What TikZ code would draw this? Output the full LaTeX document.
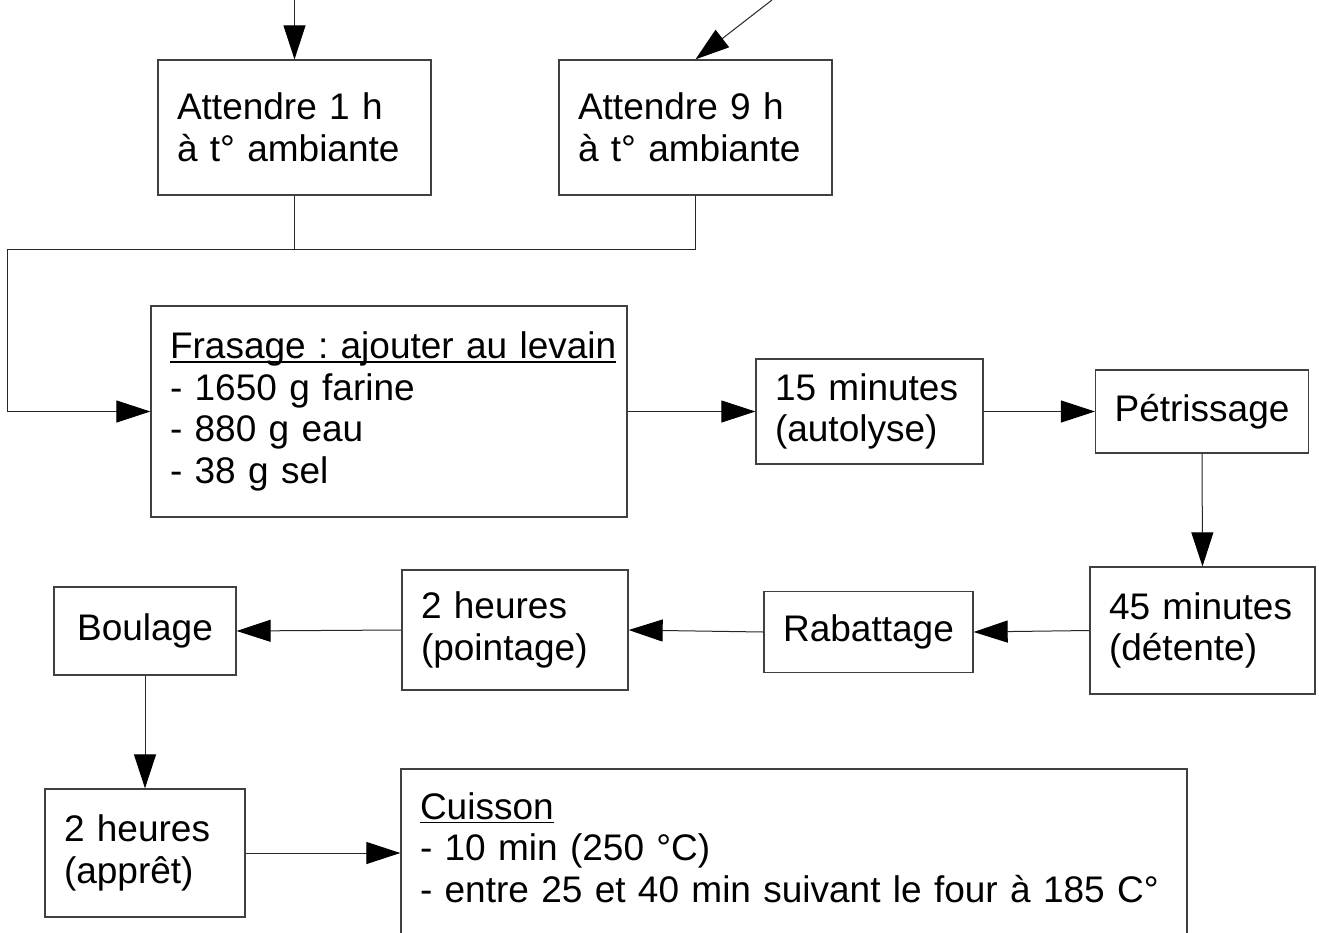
\documentclass[tikz,border=0pt]{standalone}
\usepackage{fontspec}
\setmainfont{Liberation Sans}
\usetikzlibrary{arrows.meta,calc}
\newcommand\myul[1]{\setbox0\hbox{#1}\rlap{\rule[-4pt]{\wd0}{1.8pt}}\box0}
\frenchspacing
\begin{document}
\begin{tikzpicture}[x=1pt,y=-1pt,
  box/.style={draw=black!75, line width=1.3pt, inner xsep=19pt, inner ysep=0pt,
    font=\fontsize{37}{41.5}\selectfont, align=left},
  cbox/.style={box, align=center},
  conn/.style={draw=black!85, line width=1pt},
  arr/.style={conn, -{Triangle[length=34pt,width=22pt,fill=black,color=black]}}]
\useasboundingbox (0,0) rectangle (1319,932);

% nodes
\node[box, text width=235pt, minimum height=135pt] (A1) at (294.5,127.5) {Attendre 1 h\\à t° ambiante};
\node[box, text width=235pt, minimum height=135pt] (A9) at (695.5,127.5) {Attendre 9 h\\à t° ambiante};
\node[box, text width=438pt, minimum height=211pt] (F) at (389,411.5)
  {\mbox{\myul{Frasage : ajouter au levain}}\\- 1650 g farine\\- 880 g eau\\- 38 g sel};
\node[box, text width=189pt, minimum height=105pt] (M) at (869.5,411.5) {\mbox{15 minutes}\\(autolyse)};
\node[cbox, minimum width=212pt, minimum height=83pt] (P) at (1202,411.5) {Pétrissage};
\node[box, text width=187pt, minimum height=127pt] (D) at (1202.5,630.5) {\mbox{45 minutes}\\(détente)};
\node[cbox, minimum width=209pt, minimum height=81pt] (R) at (868.5,632) {Rabattage};
\node[box, text width=188pt, minimum height=120pt] (PT) at (515,630) {2 heures\\(pointage)};
\node[cbox, minimum width=182pt, minimum height=88pt] (B) at (145,631) {Boulage};
\node[box, text width=162pt, minimum height=128pt] (AP) at (145,853) {2 heures\\(apprêt)};
\node[box, text width=748pt, minimum height=211pt] (C) at (794,874.5)
  {\myul{Cuisson}\\- 10 min (250 °C)\\\mbox{- entre 25 et 40 min suivant le four à 185 C°}\\\strut};

% free ends
\coordinate (t1) at (294.5,0);
\coordinate (t9) at (772,0);
\coordinate (j) at (7,249);

% connectors
\draw[arr] (t1) -- (A1.north);
\draw[arr] (t9) -- (A9.north);
\draw[conn] (A1.south) -- (A1.south |- j);
\draw[arr] (A9.south) |- (j) |- (F.west);
\draw[arr] (F.east) -- (M.west);
\draw[arr] (M.east) -- (P.west);
\draw[arr] (P.south) -- (D.north);
\draw[arr] (D.west) -- (R.east);
\draw[arr] (R.west) -- (PT.east);
\draw[arr] (PT.west) -- (B.east);
\draw[arr] (B.south) -- (AP.north);
\draw[arr] (AP.east) -- (AP.east -| C.west);
\end{tikzpicture}
\end{document}
